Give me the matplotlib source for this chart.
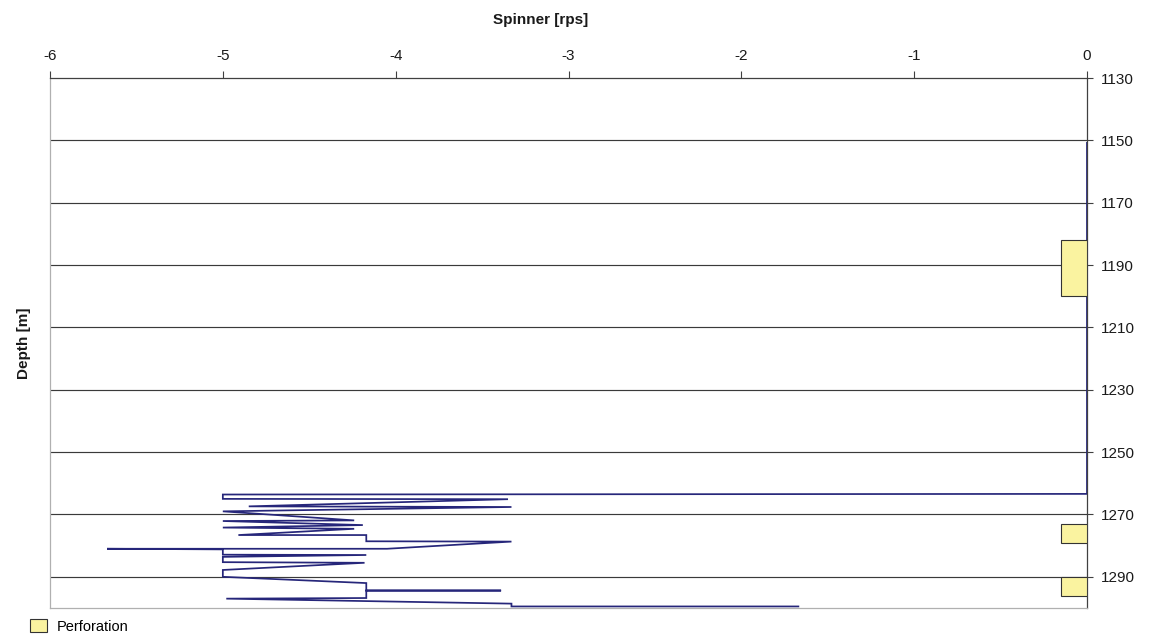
import matplotlib
matplotlib.use("Agg")
import matplotlib.pyplot as plt
from matplotlib.patches import Patch

plt.rcParams['font.family'] = ['Liberation Sans', 'DejaVu Sans']

# Spinner log: reading path as (spinner value [rps], depth [m])
spinner_rps = [0.0, 0.0, -5.0, -5.0, -3.35, -4.85, -3.33, -5.0, -4.24, -5.0,
               -4.19, -5.0, -4.24, -4.91, -4.17, -4.17, -3.33, -4.05, -5.67, -5.0,
               -5.0, -4.17, -5.0, -5.0, -4.18, -5.0, -5.0, -4.17, -4.17, -3.39,
               -4.17, -4.17, -4.98, -3.33, -3.33, -1.67]
depth_m = [1150.8, 1263.4, 1263.6, 1265.0, 1265.1, 1267.4, 1267.6, 1269.0, 1271.9, 1272.1,
           1273.4, 1274.2, 1274.6, 1276.6, 1276.6, 1278.6, 1278.7, 1281.0, 1281.0, 1281.2,
           1282.9, 1283.0, 1283.6, 1285.3, 1285.5, 1287.8, 1290.0, 1292.0, 1294.4, 1294.4,
           1294.4, 1296.8, 1297.0, 1298.6, 1299.5, 1299.5]

# Perforated intervals
perf_top = [1182.0, 1273.0, 1290.0]
perf_bottom = [1200.0, 1279.0, 1296.0]

x_ticks = [-6, -5, -4, -3, -2, -1, 0]
depth_ticks = [1130, 1150, 1170, 1190, 1210, 1230, 1250, 1270, 1290]

fig = plt.figure(figsize=(11.55, 6.41), dpi=100)
ax = fig.add_axes([50 / 1155, 1 - 608 / 641, (1087 - 50) / 1155, (608 - 78) / 641])

ax.set_xlim(-6, 0)
ax.set_ylim(1300, 1130)

# Horizontal grid
ax.set_axisbelow(True)
for d in depth_ticks[1:]:
    ax.axhline(d, color='#3a3a3a', lw=0.85, zorder=1)

ax.plot(spinner_rps, depth_m, color='#26267a', lw=1.25, zorder=3,
        solid_joinstyle='miter')

for top, bot in zip(perf_top, perf_bottom):
    ax.barh((top + bot) / 2, -0.15, height=bot - top, left=0,
            color='#faf3a0', edgecolor='#333333', lw=0.8, zorder=4)

# Axes decorations
ax.xaxis.tick_top()
ax.set_xticks(x_ticks)
ax.set_xticklabels([str(v) for v in x_ticks])
ax.yaxis.tick_right()
ax.yaxis.set_label_position('left')
ax.set_yticks(depth_ticks)
ax.tick_params(axis='x', direction='out', length=5, width=0.8, color='#404040',
               labelsize=11, pad=6, labelcolor='#1a1a1a')
ax.tick_params(axis='y', direction='out', length=4, width=0.8, color='#404040',
               labelsize=11, pad=6, labelcolor='#1a1a1a')

fig.text(541 / 1155, 1 - 20 / 641, 'Spinner [rps]', fontsize=11, fontweight='bold',
         ha='center', va='center', color='#1a1a1a')
ax.set_ylabel('Depth [m]', fontsize=11, fontweight='bold', labelpad=14, color='#1a1a1a')

ax.spines['top'].set_color('#404040')
ax.spines['right'].set_color('#404040')
ax.spines['left'].set_color('#b0b0b0')
ax.spines['bottom'].set_color('#b0b0b0')
for s in ax.spines.values():
    s.set_linewidth(0.9)

fig.legend(handles=[Patch(facecolor='#faf3a0', edgecolor='#333333', lw=0.8)],
           labels=['Perforation'], loc='upper left',
           bbox_to_anchor=(29 / 1155, 1 - 618 / 641), frameon=False,
           fontsize=10.5, handlelength=1.1, handleheight=0.9, handletextpad=0.7,
           borderaxespad=0, borderpad=0.1)

fig.savefig('out.png', dpi=100)
